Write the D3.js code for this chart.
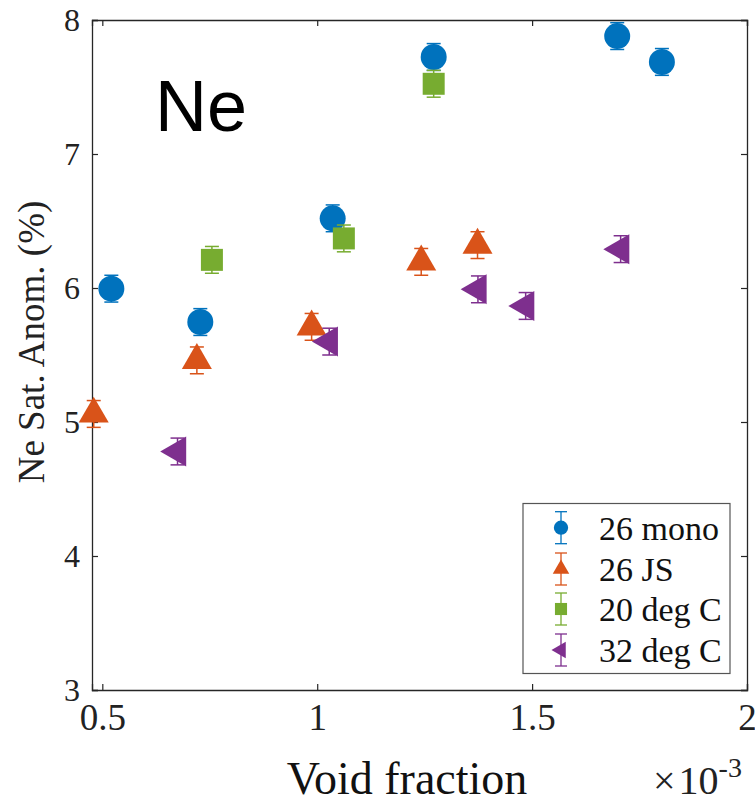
<!DOCTYPE html>
<html><head><meta charset="utf-8">
<script src="https://cdn.jsdelivr.net/npm/d3@7"></script>
<style>body{margin:0;background:#fff}svg{display:block}</style>
</head><body>
<svg id="c" width="755" height="803"></svg>
<script>
// ---- data ----
const seriesNames = ["26 mono", "26 JS", "20 deg C", "32 deg C"];
const xMono = [0.521, 0.728, 1.036, 1.271, 1.698, 1.802];
const yMono = [5.995, 5.746, 6.52, 7.724, 7.88, 7.687];
const eMono = [0.10, 0.10, 0.10, 0.10, 0.10, 0.10];
const xJS = [0.48, 0.72, 0.987, 1.242, 1.373];
const yJS = [5.06, 5.46, 5.71, 6.195, 6.32];
const eJS = [0.10, 0.10, 0.10, 0.10, 0.10];
const x20 = [0.755, 1.062, 1.271];
const y20 = [6.21, 6.37, 7.524];
const e20 = [0.10, 0.10, 0.10];
const x32 = [0.675, 1.028, 1.374, 1.485, 1.706];
const y32 = [4.78, 5.60, 5.99, 5.866, 6.29];
const e32 = [0.10, 0.10, 0.10, 0.10, 0.10];
const xTicks = [0.5, 1, 1.5, 2];
const yTicks = [3, 4, 5, 6, 7, 8];
const xDomain = [0.476, 2.0];
const yDomain = [3, 8];

const colors = ["#0072BD", "#D95319", "#77AC30", "#7E2F8E"];
const shapes = ["circle", "up", "square", "left"];

const svg = d3.select("#c");
const L = 92, R = 747, T = 20, B = 690;
const x = d3.scaleLinear().domain(xDomain).range([L, R]);
const y = d3.scaleLinear().domain(yDomain).range([B, T]);

const serif = "'Liberation Serif','Times New Roman',serif";
const axisColor = "#262626";

// axes with inward ticks on all four sides
const tl = 6;
const gx = svg.append("g").attr("transform", `translate(0,${B})`)
  .call(d3.axisBottom(x).tickValues(xTicks).tickSize(-tl).tickPadding(14).tickFormat(d3.format("")));
const gxt = svg.append("g").attr("transform", `translate(0,${T})`)
  .call(d3.axisTop(x).tickValues(xTicks).tickSize(-tl).tickFormat(""));
const gy = svg.append("g").attr("transform", `translate(${L},0)`)
  .call(d3.axisLeft(y).tickValues(yTicks).tickSize(-tl).tickPadding(12).tickFormat(d3.format("")));
const gyr = svg.append("g").attr("transform", `translate(${R},0)`)
  .call(d3.axisRight(y).tickValues(yTicks).tickSize(-tl).tickFormat(""));
[gx, gxt, gy, gyr].forEach(g => {
  g.attr("font-family", serif);
  g.select(".domain").attr("stroke", axisColor).attr("stroke-width", 1.3);
  g.selectAll(".tick line").attr("stroke", axisColor).attr("stroke-width", 1.2);
});
gx.selectAll(".tick text").attr("font-family", serif).attr("font-size", 37).attr("fill", "#222");
gy.selectAll(".tick text").attr("font-family", serif).attr("font-size", 32).attr("fill", "#222");

// axis labels
svg.append("text").attr("x", 407).attr("y", 794).attr("text-anchor", "middle")
  .attr("font-family", serif).attr("font-size", 46).attr("fill", "#111").text("Void fraction");
const mult = svg.append("text").attr("x", 653).attr("y", 794)
  .attr("font-family", serif).attr("font-size", 40).attr("fill", "#222");
mult.append("tspan").text("\u00D7");
mult.append("tspan").attr("dx", 3).text("10");
mult.append("tspan").attr("dy", -17).attr("font-size", 28).text("-3");
svg.append("text").attr("transform", `translate(44,342) rotate(-90)`).attr("text-anchor", "middle")
  .attr("font-family", serif).attr("font-size", 37).attr("fill", "#222").text("Ne Sat. Anom. (%)");

// "Ne" annotation
svg.append("text").attr("x", 155).attr("y", 131).attr("font-family", "'Liberation Sans',Arial,sans-serif")
  .attr("font-size", 72).attr("fill", "#000").text("Ne");

// marker path generator
function markerPath(shape, scale) {
  const s = scale || 1;
  if (shape === "circle") return d3.symbol(d3.symbolCircle, 531 * s * s)();
  if (shape === "square") return d3.symbol(d3.symbolSquare, 484 * s * s)();
  return d3.symbol(d3.symbolTriangle, 390 * s * s)();
}
function markerRot(shape) { return shape === "left" ? -90 : 0; }

const series = [
  {xs: xMono, ys: yMono, es: eMono},
  {xs: xJS, ys: yJS, es: eJS},
  {xs: x20, ys: y20, es: e20},
  {xs: x32, ys: y32, es: e32}
];
const capW = 7;
series.forEach((s, i) => {
  const data = s.xs.map((v, k) => ({x: v, y: s.ys[k], e: s.es[k]}));
  const g = svg.append("g");
  const eb = g.selectAll("g.eb").data(data).join("g").attr("stroke", colors[i]).attr("stroke-width", 1.5);
  eb.append("line").attr("x1", d => x(d.x)).attr("x2", d => x(d.x))
    .attr("y1", d => y(d.y - d.e)).attr("y2", d => y(d.y + d.e));
  eb.append("line").attr("x1", d => x(d.x) - capW).attr("x2", d => x(d.x) + capW)
    .attr("y1", d => y(d.y + d.e)).attr("y2", d => y(d.y + d.e));
  eb.append("line").attr("x1", d => x(d.x) - capW).attr("x2", d => x(d.x) + capW)
    .attr("y1", d => y(d.y - d.e)).attr("y2", d => y(d.y - d.e));
  g.selectAll("path.m").data(data).join("path").attr("class", "m")
    .attr("d", markerPath(shapes[i]))
    .attr("transform", d => `translate(${x(d.x)},${y(d.y)}) rotate(${markerRot(shapes[i])})`)
    .attr("fill", colors[i]);
});

// legend
const lg = svg.append("g");
lg.append("rect").attr("x", 523).attr("y", 503.5).attr("width", 207).attr("height", 170)
  .attr("fill", "#fff").attr("stroke", "#555").attr("stroke-width", 1.2);
const rowY = [527.7, 569, 609, 650];
seriesNames.forEach((name, i) => {
  const cx = 561, cy = rowY[i];
  const g = lg.append("g").attr("stroke", colors[i]).attr("stroke-width", 1.3);
  g.append("line").attr("x1", cx).attr("x2", cx).attr("y1", cy - 16).attr("y2", cy + 16);
  g.append("line").attr("x1", cx - 6).attr("x2", cx + 6).attr("y1", cy - 16).attr("y2", cy - 16);
  g.append("line").attr("x1", cx - 6).attr("x2", cx + 6).attr("y1", cy + 16).attr("y2", cy + 16);
  lg.append("path").attr("d", markerPath(shapes[i], 0.55))
    .attr("transform", `translate(${cx},${cy}) rotate(${markerRot(shapes[i])})`).attr("fill", colors[i]);
  lg.append("text").attr("x", 599).attr("y", cy).attr("dy", "0.35em")
    .attr("font-family", serif).attr("font-size", 34).attr("fill", "#111").text(name);
});
</script>
</body></html>
